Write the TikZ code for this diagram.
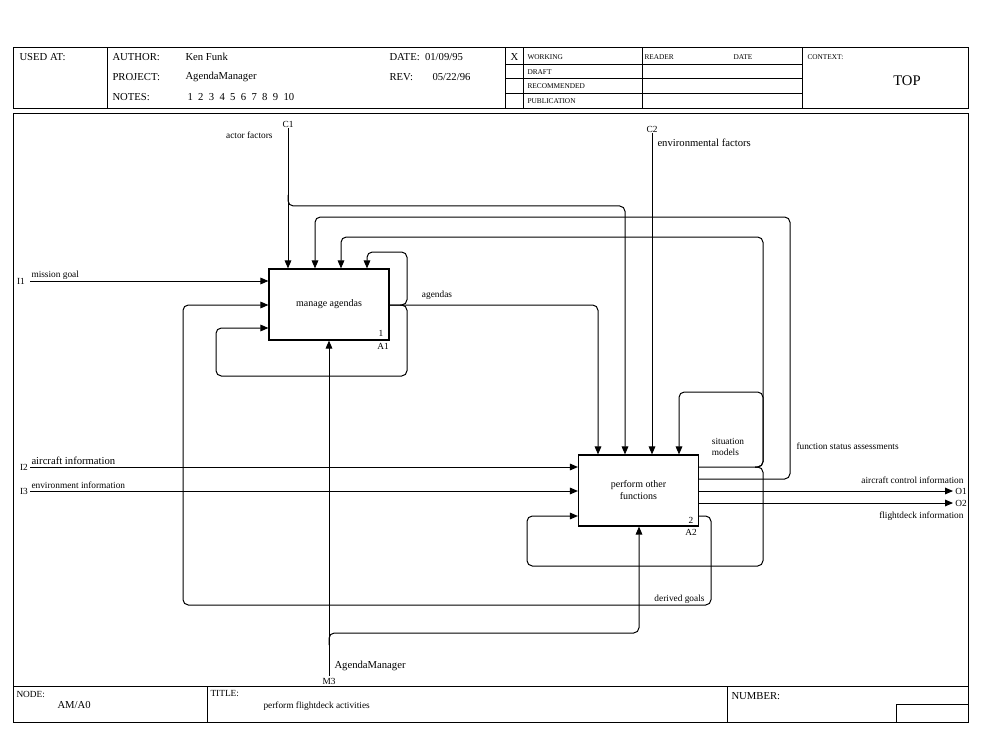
\documentclass[tikz,border=0pt]{standalone}
\usepackage{fontspec}
\setmainfont{Liberation Serif}
\usetikzlibrary{arrows.meta}
\begin{document}
\begin{tikzpicture}[x=0.75pt,y=-0.75pt,
  line width=0.75pt,
  fn/.style={draw,line width=0.9pt,minimum width=90pt,minimum height=53.25pt,inner sep=0pt,align=center,font=\fontsize{7.5}{9}\selectfont},
  ar/.style={-{Triangle[length=6pt,width=5pt]}},
  rc/.style={rounded corners=4pt},
  lbl/.style={inner sep=0pt,font=\fontsize{7}{8}\selectfont},
  hd/.style={inner sep=0pt,anchor=west,font=\fontsize{8}{9}\selectfont},
  tb/.style={inner sep=0pt,anchor=west,font=\fontsize{5.5}{6}\selectfont}]
\useasboundingbox (0,0) rectangle (985,731);
% header
\draw (13,48) rectangle (968,109);
\draw (107,48) -- (107,109) (505,48) -- (505,109) (523,48) -- (523,109) (642,48) -- (642,109) (802,48) -- (802,109);
\draw (505,65) -- (802,65) (505,79) -- (802,79) (505,94) -- (802,94);
\node[hd] (usedat) at (19,57) {USED AT:};
\node[hd] (author) at (112,57) {AUTHOR:};
\node[hd] (authorv) at (185,57) {Ken Funk};
\node[hd] (date) at (389,57) {DATE:\ \ 01/09/95};
\node[hd] (project) at (112,77) {PROJECT:};
\node[hd] (projectv) at (185,77) {AgendaManager};
\node[hd] (rev) at (389,77) {REV:};
\node[hd] (revv) at (432,77) {05/22/96};
\node[hd] (notes) at (112,97) {NOTES:};
\node[hd] (notesv) at (187,97) {1\ \ 2\ \ 3\ \ 4\ \ 5\ \ 6\ \ 7\ \ 8\ \ 9\ \ 10};
\node[hd] (x) at (510,57) {X};
\node[tb] (working) at (527,57) {WORKING};
\node[tb] (draft) at (527,72) {DRAFT};
\node[tb] (recom) at (527,86) {RECOMMENDED};
\node[tb] (pub) at (527,101) {PUBLICATION};
\node[tb] (reader) at (644,57) {READER};
\node[tb] (rdate) at (733,57) {DATE};
\node[tb] (context) at (807,57) {CONTEXT:};
\node[inner sep=0pt,font=\fontsize{11}{12}\selectfont] (top) at (907,81) {TOP};
% main frame
\draw (13,114) rectangle (968,686);
% footer
\draw (13,686) rectangle (968,722);
\draw (207,686) -- (207,722) (727,686) -- (727,722);
\draw (896,704) rectangle (968,722);
\node[lbl,anchor=west] (node) at (16,694) {NODE:};
\node[hd] (nodev) at (57,705) {AM/A0};
\node[lbl,anchor=west] (title) at (210,694) {TITLE:};
\node[lbl,anchor=west] (titlev) at (263,706) {perform flightdeck activities};
\node[hd] (number) at (731,696) {NUMBER:};
% boxes
\node[fn] (A1) at (329,304.5) {manage agendas};
\node[fn] (A2) at (638.5,490.5) {perform other\\functions};
\node[lbl] (n1) at (381,333) {1};
\node[lbl] (a1) at (383,346) {A1};
\node[lbl] (n2) at (691,520) {2};
\node[lbl] (a2) at (691,532) {A2};
% boundary labels
\node[lbl] (C1) at (288,124) {C1};
\node[lbl,anchor=east] (actor) at (273,135) {actor factors};
\node[lbl] (C2) at (652,129) {C2};
\node[lbl,anchor=west,font=\fontsize{8}{9}\selectfont] (envf) at (657,143) {environmental factors};
\node[lbl] (I1) at (21,281) {I1};
\node[lbl,anchor=west] (mg) at (31,275) {mission goal};
\node[lbl] (I2) at (24,467) {I2};
\node[lbl,anchor=west,font=\fontsize{8}{9}\selectfont] (ai) at (31,461) {aircraft information};
\node[lbl] (I3) at (24,491) {I3};
\node[lbl,anchor=west] (ei) at (31,485) {environment information};
\node[lbl] (O1) at (961,491) {O1};
\node[lbl,anchor=east] (aci) at (964,480) {aircraft control information};
\node[lbl] (O2) at (961,503) {O2};
\node[lbl,anchor=east] (fi) at (964,516) {flightdeck information};
\node[lbl] (M3) at (329,681) {M3};
\node[lbl,anchor=west,font=\fontsize{8}{9}\selectfont] (am) at (334,666) {AgendaManager};
\node[lbl] (agl) at (437,295) {agendas};
\node[lbl,align=left] (sm) at (728,447) {situation\\models};
\node[lbl,anchor=west] (fsa) at (796,446) {function status assessments};
\node[lbl,anchor=east] (dg) at (705,599) {derived goals};
% boundary anchors
\coordinate (c1s) at (288,128);
\coordinate (c2s) at (652,133);
\coordinate (i1s) at (30,281);
\coordinate (i2s) at (30,467);
\coordinate (i3s) at (30,491);
\coordinate (o1e) at (953,491);
\coordinate (o2e) at (953,503);
\coordinate (m3s) at (329,676);
% connectors
\draw[ar] (c1s) -- (A1.north -| 288,0);
\draw[ar,rc] (288,195) -- (288,206) -- (625,206) -- (A2.north -| 625,0);
\draw[ar] (c2s) -- (A2.north -| 652,0);
\draw[ar] (i1s) -- (A1.west |- 0,281);
\draw[ar] (i2s) -- (A2.west |- 0,467);
\draw[ar] (i3s) -- (A2.west |- 0,491);
\draw[ar] (A2.east |- 0,491) -- (o1e);
\draw[ar] (A2.east |- 0,503) -- (o2e);
\draw[ar] (m3s) -- (A1.south -| 329,0);
\draw[ar,rc] (329,645) -- (329,633) -- (639,633) -- (A2.south -| 639,0);
% agendas
\draw[ar,rc] (A1.east |- 0,305) -- (598,305) -- (A2.north -| 598,0);
\draw[ar,rc] (A1.east |- 0,305) -- (407,305) -- (407,252) -- (367,252) -- (A1.north -| 367,0);
\draw[ar,rc] (400,305) -- (407,305) -- (407,376) -- (216,376) -- (216,328) -- (A1.west |- 0,328);
% function status assessments
\draw[ar,rc] (A2.east |- 0,479) -- (790,479) -- (790,217) -- (315,217) -- (A1.north -| 315,0);
% situation models
\draw[ar,rc] (A2.east |- 0,467) -- (763,467) -- (763,237) -- (341,237) -- (A1.north -| 341,0);
\draw[ar,rc] (755,467) -- (763,467) -- (763,392) -- (679,392) -- (A2.north -| 679,0);
\draw[ar,rc] (755,467) -- (763,467) -- (763,566) -- (527,566) -- (527,516) -- (A2.west |- 0,516);
% derived goals
\draw[ar,rc] (A2.east |- 0,516) -- (711,516) -- (711,605) -- (183,605) -- (183,305) -- (A1.west |- 0,305);
\end{tikzpicture}
\end{document}
